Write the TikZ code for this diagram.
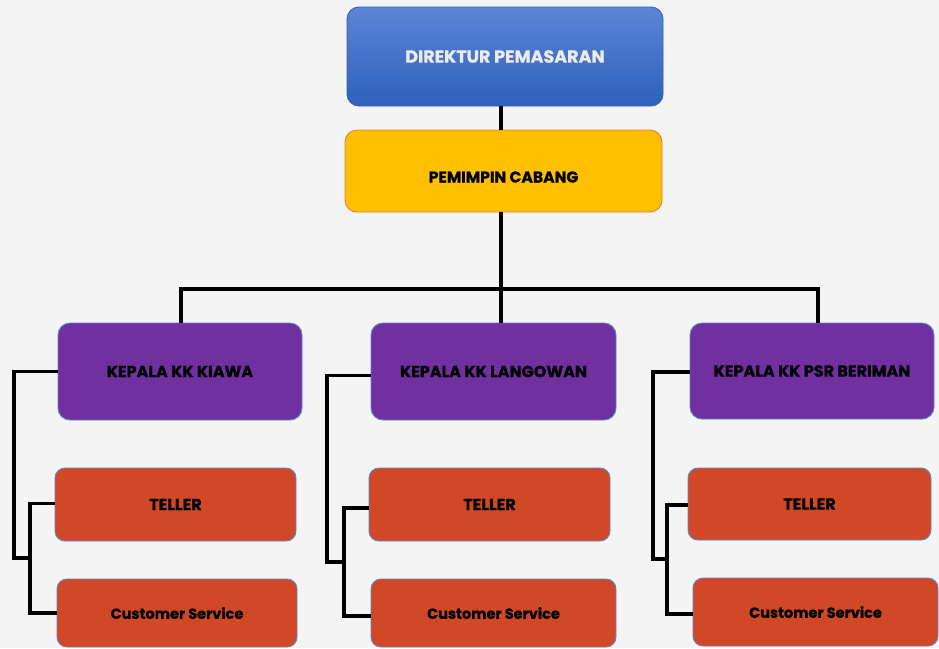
\documentclass[tikz,border=0pt]{standalone}
\usepackage{fontspec}
\setmainfont{Poppins}[BoldFeatures={FakeBold=0.9}]
\usetikzlibrary{calc}
\definecolor{bg}{HTML}{F4F4F4}
\definecolor{dirtop}{HTML}{5B86D4}
\definecolor{dirbot}{HTML}{2E60BC}
\definecolor{gold}{HTML}{FFC000}
\definecolor{goldedge}{HTML}{ED7D31}
\definecolor{plum}{HTML}{7030A0}
\definecolor{rust}{HTML}{D14826}
\definecolor{edgeblue}{HTML}{5B84D0}
\newcommand{\fs}[1]{\fontsize{#1}{#1}\selectfont\bfseries}
\tikzset{
  orgbox/.style={rectangle, rounded corners=12pt, line width=0.9pt,
    font=\fs{16}, align=center, inner sep=0pt},
  headbox/.style={orgbox, draw=dirbot, top color=dirtop, bottom color=dirbot,
    text=white!92!black, font=\fs{17.5}},
  chiefbox/.style={orgbox, draw=goldedge, fill=gold, text=black, font=\fs{15.6}},
  unitbox/.style={orgbox, draw=edgeblue, fill=plum, text=black},
  staffbox/.style={orgbox, rounded corners=10pt, draw=edgeblue, fill=rust, text=black},
  csbox/.style={staffbox, font=\fs{14.5}},
  link/.style={line width=3.2pt, black}
}
\begin{document}
\begin{tikzpicture}[x=1pt,y=-1pt]
  \fill[bg] (0,0) rectangle (939,648);
  \useasboundingbox (0,0) rectangle (939,648);

  % junction points of the connector network
  \coordinate (bus) at (501,289);
  \coordinate (r1) at (14,558);  \coordinate (j1) at (30,558);
  \coordinate (r2) at (327,562); \coordinate (j2) at (344,562);
  \coordinate (r3) at (653,559); \coordinate (j3) at (667,559);

  % top level
  \node[headbox, minimum width=316pt, minimum height=99pt] (dir) at (505,56.5) {DIREKTUR PEMASARAN};
  \node[chiefbox, minimum width=317pt, minimum height=82pt, text height=23pt, text depth=0pt] (pem) at (503.5,171) {PEMIMPIN CABANG};

  % branch heads
  \node[unitbox, minimum width=244pt, minimum height=97pt] (k1) at (180,371.5) {KEPALA KK KIAWA};
  \node[unitbox, minimum width=245pt, minimum height=97pt] (k2) at (493.5,371.5) {KEPALA KK LANGOWAN};
  \node[unitbox, minimum width=244pt, minimum height=96pt] (k3) at (812,371) {KEPALA KK PSR BERIMAN};

  % staff
  \node[staffbox, minimum width=241pt, minimum height=73pt] (t1) at (175.5,504.5) {TELLER};
  \node[csbox, minimum width=240pt, minimum height=68pt] (c1) at (177,613) {Customer Service};
  \node[staffbox, minimum width=241pt, minimum height=73pt] (t2) at (489.5,504.5) {TELLER};
  \node[csbox, minimum width=245pt, minimum height=68pt] (c2) at (493.5,613) {Customer Service};
  \node[staffbox, minimum width=243pt, minimum height=72pt] (t3) at (809.5,504) {TELLER};
  \node[csbox, minimum width=245pt, minimum height=68pt] (c3) at (815.5,612) {Customer Service};

  % vertical chain from the director to the branch bus
  \draw[link] ([xshift=-4pt]dir.south) -- ([xshift=-4pt]dir.south |- pem.north);
  \draw[link] (pem.south -| bus) -- (bus);
  \draw[link] ([xshift=1pt]k1.north) |- (bus);
  \draw[link] ([xshift=6pt]k3.north) |- (bus);
  \draw[link] (bus) -- (bus |- k2.north);

  % branch 1
  \draw[link] (k1.west) -| (r1) -- (j1);
  \draw[link] ([yshift=1pt]t1.west) -| (j1) |- (c1.west);
  % branch 2
  \draw[link] ([yshift=-4pt]k2.west) -| (r2) -- (j2);
  \draw[link] ([yshift=-3.5pt]t2.west) -| (j2) |- ([yshift=-3pt]c2.west);
  % branch 3
  \draw[link] ([yshift=-1pt]k3.west) -| (r3) -- (j3);
  \draw[link] ([yshift=-1pt]t3.west) -| (j3) |- ([yshift=-2pt]c3.west);
\end{tikzpicture}
\end{document}
